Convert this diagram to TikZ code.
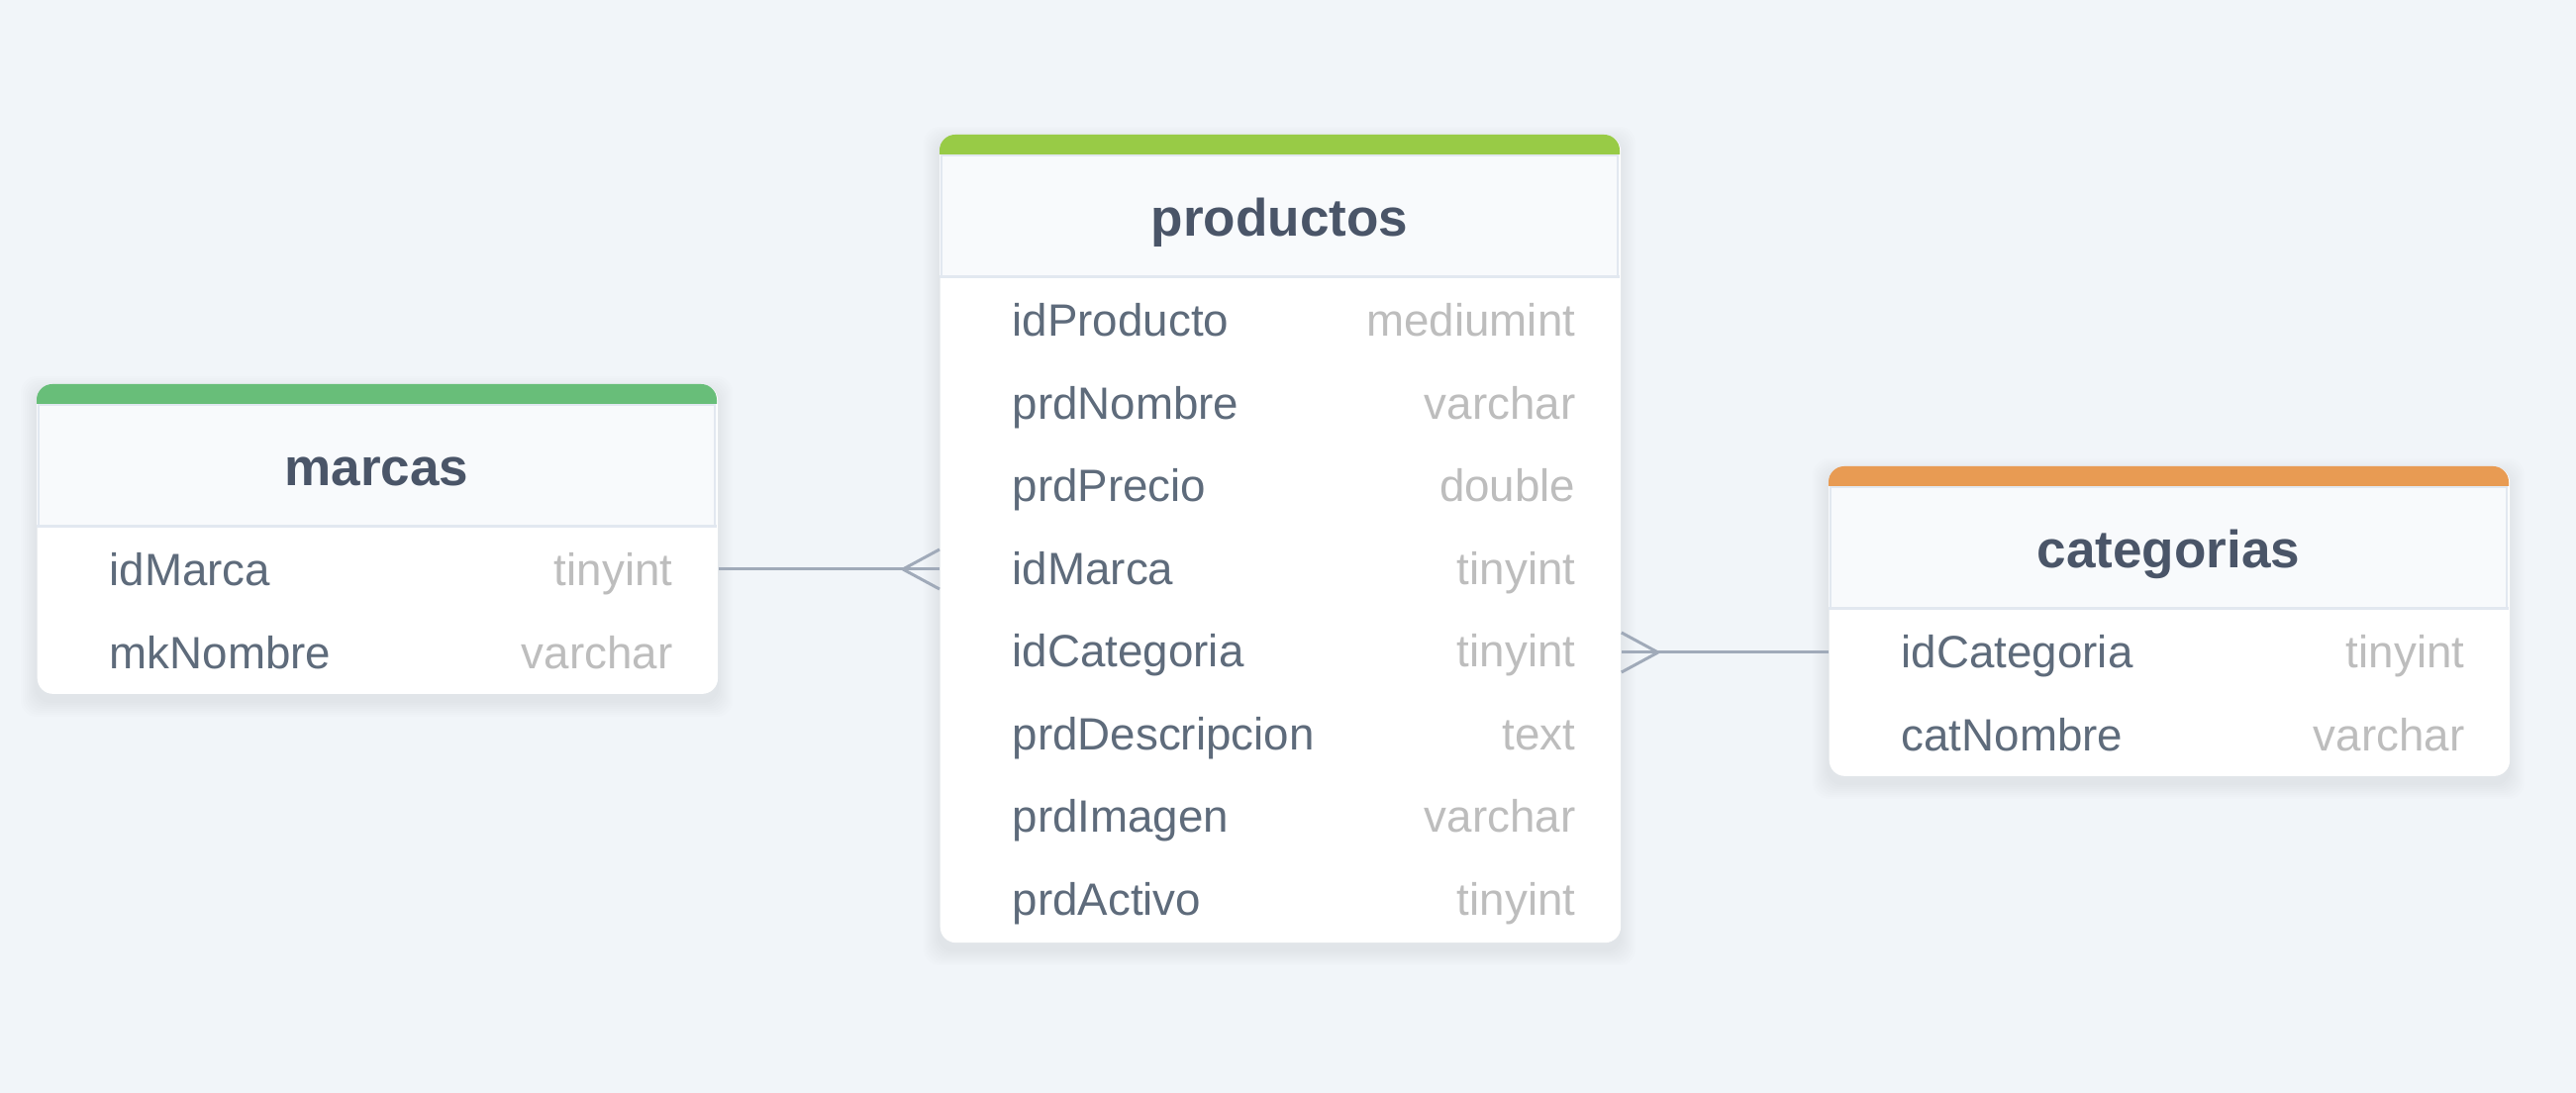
\documentclass[tikz,border=0pt]{standalone}
\usepackage{fontspec}
\setmainfont{Liberation Sans}
\usetikzlibrary{calc}
\definecolor{bgc}{HTML}{F1F5F9}
\definecolor{hdrc}{HTML}{F8FAFC}
\definecolor{hlinec}{HTML}{E2E8F0}
\definecolor{titlec}{HTML}{4A5568}
\definecolor{fieldc}{HTML}{5E6B7B}
\definecolor{typec}{HTML}{BDBDBD}
\definecolor{connc}{HTML}{A0AAB9}
\definecolor{greenA}{HTML}{98CB46}
\definecolor{greenB}{HTML}{68BE79}
\definecolor{orangeA}{HTML}{E89B53}
\newcommand\tblshadow[3]{%
  \foreach \k in {2,4,...,16} {\fill[black, opacity=0.007, rounded corners=4.5pt] (#1-\k, #2-\k+8) rectangle (#1+687+\k, #2+#3+\k+8);}}
\newcommand\tblhead[3]{%
  \begin{scope}\clip (#1,#2) rectangle (#1+687,#2+20);
  \fill[#3, rounded corners=4.5pt] (#1,#2) rectangle (#1+687,#2+60);\end{scope}
  \fill[hdrc] (#1,#2+20) rectangle (#1+687,#2+144);
  \draw[hlinec, line width=0.5pt] (#1+2,#2+21) rectangle (#1+685,#2+143);
  \draw[hlinec, line width=0.85pt] (#1,#2+144) -- (#1+687,#2+144);}
\begin{document}
\begin{tikzpicture}[x=0.01cm,y=-0.01cm,
  tbody/.style={draw=none, fill=white, rounded corners=4.5pt, minimum width=6.87cm, inner sep=0pt, anchor=north west},
  ttitle/.style={font=\fontsize{15.1}{18}\selectfont\bfseries, text=titlec, anchor=base, inner sep=0pt},
  fname/.style={font=\fontsize{13}{16}\selectfont, text=fieldc, anchor=base west, inner sep=0pt},
  ftype/.style={font=\fontsize{13}{16}\selectfont, text=typec, anchor=base east, inner sep=0pt},
  conn/.style={draw=connc, line width=0.85pt},
]
\fill[bgc] (0,0) rectangle (2602,1104);
\useasboundingbox (0,0) rectangle (2602,1104);

% ---------- marcas ----------
\tblshadow{37}{388}{312}
\node[tbody, minimum height=3.12cm] (marcas) at (37,388) {};
\tblhead{37}{388}{greenB}
\node[ttitle] (marcasT) at (380.5,491) {marcas};
\coordinate (mkrow1) at (37,575);
\node[fname] (m1) at (110,592) {idMarca};
\node[ftype] (mt1) at (680,592) {tinyint};
\node[fname] (m2) at (110,675.5) {mkNombre};
\node[ftype] (mt2) at (680,675.5) {varchar};

% ---------- productos ----------
\tblshadow{949}{136}{815}
\node[tbody, minimum height=8.15cm] (prod) at (949,136) {};
\tblhead{949}{136}{greenA}
\node[ttitle] (prodT) at (1292.5,239) {productos};
\foreach \i/\n/\t in {0/idProducto/mediumint,1/prdNombre/varchar,2/prdPrecio/double,3/idMarca/tinyint,4/idCategoria/tinyint,5/prdDescripcion/text,6/prdImagen/varchar,7/prdActivo/tinyint}{
  \node[fname] (p\i) at (1022,{340+83.5*\i}) {\n};
  \node[ftype] (pt\i) at (1592,{340+83.5*\i}) {\t};
}

% ---------- categorias ----------
\tblshadow{1847}{471}{312}
\node[tbody, minimum height=3.12cm] (cat) at (1847,471) {};
\tblhead{1847}{471}{orangeA}
\node[ttitle] (catT) at (2190.5,574) {categorias};
\coordinate (catrow1) at (1847,659);
\node[fname] (c1) at (1920,675) {idCategoria};
\node[ftype] (ct1) at (2490,675) {tinyint};
\node[fname] (c2) at (1920,758.5) {catNombre};
\node[ftype] (ct2) at (2490,758.5) {varchar};

% ---------- connectors ----------
\draw[conn] (marcas.east |- mkrow1) -- (prod.west |- mkrow1);
\draw[conn] ($(prod.west |- mkrow1)+(-37,0)$) -- ++(37,-20);
\draw[conn] ($(prod.west |- mkrow1)+(-37,0)$) -- ++(37,20);
\draw[conn] (cat.west |- catrow1) -- (prod.east |- catrow1);
\draw[conn] ($(prod.east |- catrow1)+(37,0)$) -- ++(-37,-20);
\draw[conn] ($(prod.east |- catrow1)+(37,0)$) -- ++(-37,20);
\end{tikzpicture}
\end{document}
